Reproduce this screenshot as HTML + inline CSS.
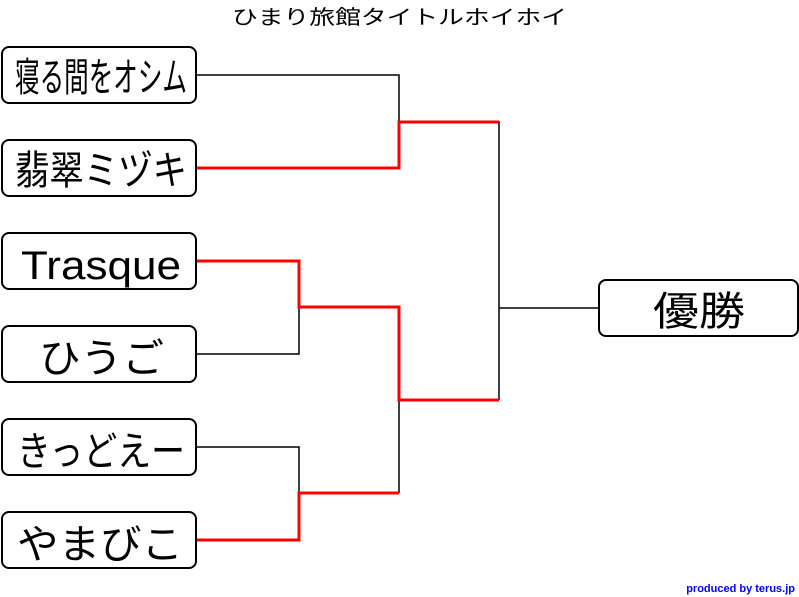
<!DOCTYPE html>
<html><head><meta charset="utf-8"><style>
html,body{margin:0;padding:0;background:#fff;}
svg{display:block;}
text{font-family:"Liberation Sans","Noto Sans CJK JP",sans-serif;}
</style></head><body>
<svg width="799" height="597" viewBox="0 0 799 597" xmlns="http://www.w3.org/2000/svg">
<text x="232" y="24" font-size="20" fill="#000" textLength="335" lengthAdjust="spacingAndGlyphs">ひまり旅館タイトルホイホイ</text>
<g fill="#fff" stroke="#000" stroke-width="2">
<rect x="2" y="47" width="194" height="56" rx="7"/>
<rect x="2" y="140" width="194" height="56" rx="7"/>
<rect x="2" y="233" width="194" height="56" rx="7"/>
<rect x="2" y="326" width="194" height="56" rx="7"/>
<rect x="2" y="419" width="194" height="56" rx="7"/>
<rect x="2" y="512" width="194" height="56" rx="7"/>
<rect x="599" y="280" width="199" height="56" rx="7"/>
</g>
<g font-size="40" fill="#000">
<text x="15" y="91" textLength="172" lengthAdjust="spacingAndGlyphs">寝る間をオシム</text>
<text x="15" y="184" textLength="172" lengthAdjust="spacingAndGlyphs">翡翠ミヅキ</text>
<text x="21" y="279" textLength="160" lengthAdjust="spacingAndGlyphs">Trasque</text>
<text x="39" y="372" textLength="125" lengthAdjust="spacingAndGlyphs">ひうご</text>
<text x="17" y="465" textLength="168" lengthAdjust="spacingAndGlyphs">きっどえー</text>
<text x="17" y="558" textLength="166" lengthAdjust="spacingAndGlyphs">やまびこ</text>
<text x="653" y="325" textLength="92" lengthAdjust="spacingAndGlyphs">優勝</text>
</g>
<g fill="none" stroke="#000" stroke-width="1.5">
<polyline points="197,75 399,75 399,121"/>
<polyline points="197,354 299,354 299,307"/>
<polyline points="197,447 299,447 299,493"/>
<polyline points="399,493 399,400"/>
<polyline points="499,121 499,400"/>
<polyline points="499,308 599,308"/>
</g>
<g fill="none" stroke="#f00" stroke-width="3">
<polyline points="197,168 399,168 399,122 499,122"/>
<polyline points="197,261 299,261 299,307 399,307 399,400 499,400"/>
<polyline points="197,540 299,540 299,493 399,493"/>
</g>
<text x="795" y="592" font-size="11" font-weight="bold" fill="#00f" text-anchor="end">produced by terus.jp</text>
</svg>
</body></html>
